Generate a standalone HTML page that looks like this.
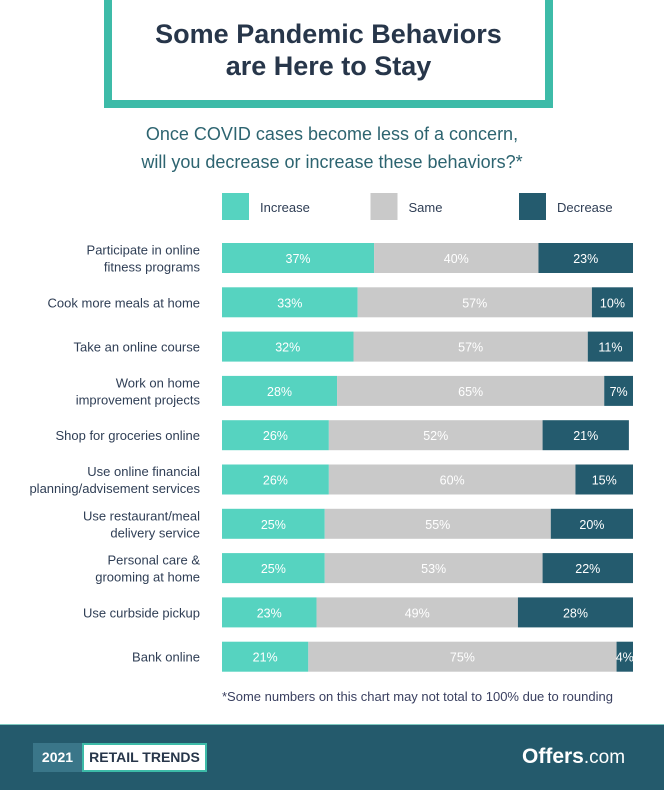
<!DOCTYPE html>
<html><head><meta charset="utf-8">
<style>
body{margin:0;width:664px;height:789px;background:#fff;font-family:"Liberation Sans",sans-serif;position:relative;overflow:hidden}
.abs{position:absolute}
</style></head>
<body>
<div class="abs" style="left:104px;top:-8px;width:433px;height:100px;border:8px solid #3dbba8;background:#fff"></div>
<div class="abs" style="left:104px;top:18px;width:449px;text-align:center;font-weight:bold;font-size:27px;line-height:32px;color:#27364a">Some Pandemic Behaviors<br>are Here to Stay</div>
<div class="abs" style="left:60px;top:120px;width:544px;text-align:center;font-size:18px;line-height:28px;color:#2d6470">Once COVID cases become less of a concern,<br>will you decrease or increase these behaviors?*</div>
<svg class="abs" style="left:0;top:0" width="664" height="789" id="chart"></svg>
<div class="abs" style="left:222px;top:689px;font-size:13px;color:#3a4060;white-space:nowrap">*Some numbers on this chart may not total to 100% due to rounding</div>
<div class="abs" style="left:0;top:724px;width:664px;height:65px;background:#245a6c;border-top:1px solid #7fc9c0"></div>
<div class="abs" style="left:33px;top:743px;width:49px;height:29px;background:#3a7689;color:#fff;font-weight:bold;font-size:14px;line-height:29px;text-align:center">2021</div>
<div class="abs" style="left:82px;top:743px;width:121px;height:25px;background:#fff;border:2px solid #3dbba8;color:#27364a;font-weight:bold;font-size:14px;line-height:25px;text-align:center">RETAIL TRENDS</div>
<div class="abs" style="left:522px;top:745px;color:#fff;font-size:21px;font-weight:bold">Offers<span style="font-weight:normal;font-size:19px">.com</span></div>
<script>
const categories=[["Participate in online","fitness programs"],["Cook more meals at home"],["Take an online course"],["Work on home","improvement projects"],["Shop for groceries online"],["Use online financial","planning/advisement services"],["Use restaurant/meal","delivery service"],["Personal care &","grooming at home"],["Use curbside pickup"],["Bank online"]];
const increase=[37,33,32,28,26,26,25,25,23,21];
const same=[40,57,57,65,52,60,55,53,49,75];
const decrease=[23,10,11,7,21,15,20,22,28,4];
const seriesNames=["Increase","Same","Decrease"];
const colors=["#56d3c0","#c9c9c9","#245b6e"];
const svg=document.getElementById('chart');
const NS="http://www.w3.org/2000/svg";
const x0=222,pxPer=4.11;
const xs=v=>x0+Math.min(v,100)*pxPer;
const ys=i=>243+i*44.3;
function mk(t,a){const e=document.createElementNS(NS,t);for(const k in a)e.setAttribute(k,a[k]);svg.appendChild(e);return e;}
seriesNames.forEach((n,j)=>{
  const lx=222+j*148.5;
  const r=mk('rect',{x:lx,y:193,width:27,height:27,fill:colors[j]});
  
  
  const t=mk('text',{x:lx+38,y:212,'font-size':13,fill:'#2f3e55','font-family':'Liberation Sans, sans-serif'});
  t.textContent=n;
  
  
});
categories.forEach((c,i)=>{
  const y=ys(i);
  const lines=c;
  lines.forEach((ln,k)=>{
    const t=mk('text',{x:200,y:y+15+5+(k-(lines.length-1)/2)*17,'text-anchor':'end','font-size':13,fill:'#2f3e55','font-family':'Liberation Sans, sans-serif'});
    t.textContent=ln;
    
    
  });
  const vals=[increase[i],same[i],decrease[i]];
  let acc=0;
  vals.forEach((v,j)=>{
    const a=xs(acc),b=xs(acc+v);
    const r=mk('rect',{x:a,y:y,width:b-a,height:30,fill:colors[j]});
    
    
    const t=mk('text',{x:(a+b)/2,y:y+20,'text-anchor':'middle','font-size':12.5,fill:'#fff','font-family':'Liberation Sans, sans-serif'});
    t.textContent=v+'%';
    
    
    acc+=v;
  });
});
</script>
</body></html>
